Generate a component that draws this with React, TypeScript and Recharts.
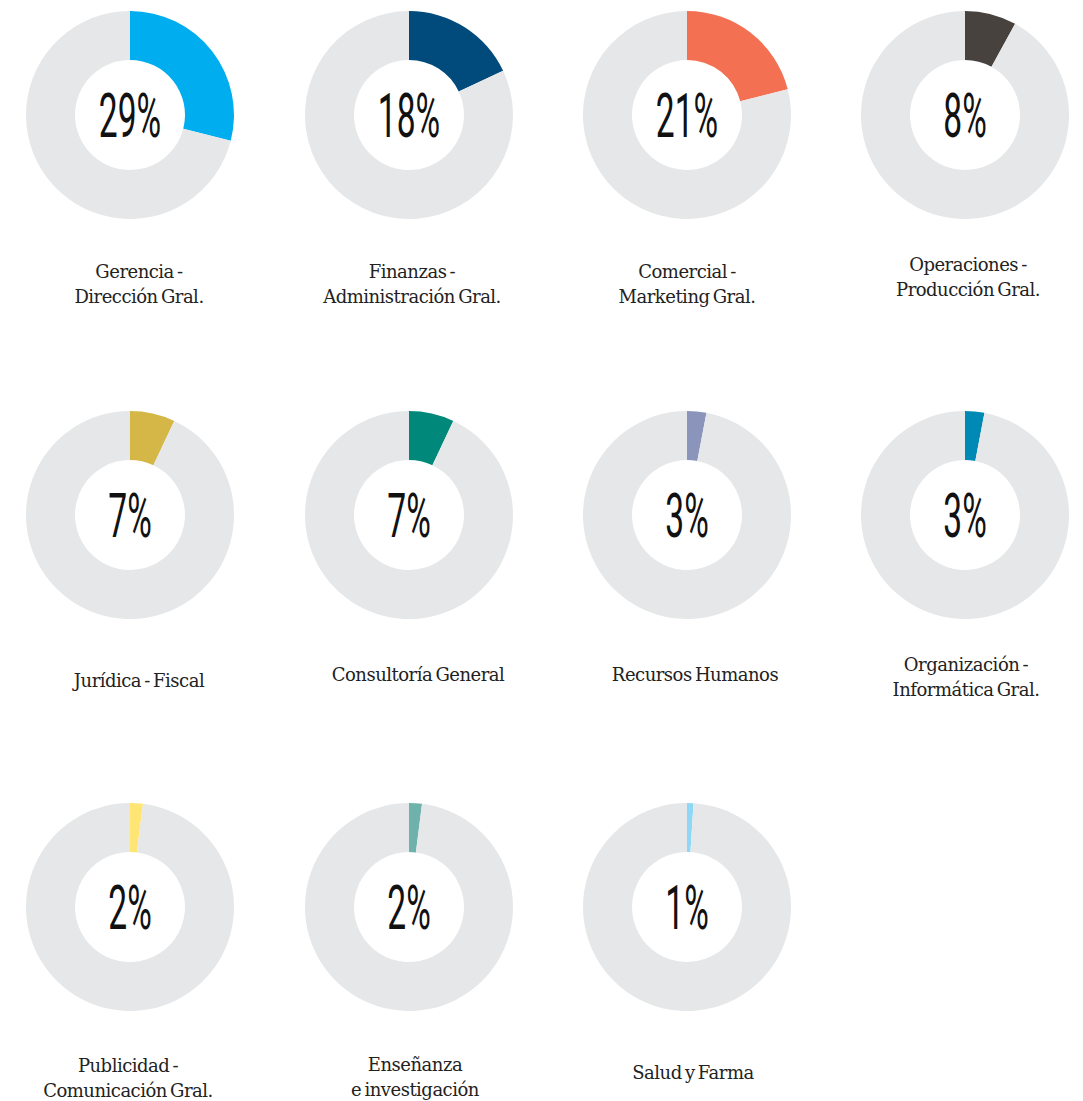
import { PieChart, Pie, Cell } from 'recharts';

// Share of respondents by functional area (%)
const areas = [
    ['Gerencia -', 'Dirección Gral.'],
    ['Finanzas -', 'Administración Gral.'],
    ['Comercial -', 'Marketing Gral.'],
    ['Operaciones -', 'Producción Gral.'],
    ['Jurídica - Fiscal'],
    ['Consultoría General'],
    ['Recursos Humanos'],
    ['Organización -', 'Informática Gral.'],
    ['Publicidad -', 'Comunicación Gral.'],
    ['Enseñanza', 'e investigación'],
    ['Salud y Farma'],
];
const shares = [29, 18, 21, 8, 7, 7, 3, 3, 2, 2, 1];
const colors = [
    '#00aeef', '#004a7c', '#f37052', '#48423f', '#d4b746', '#00897a',
    '#8b95bb', '#0089b5', '#ffe574', '#6fb2ab', '#8fd7f6',
];
const RING = '#e6e7e8';

// grid layout
const colX = [130, 409, 687, 965];
const rowY = [115, 515, 907];
// label box: [center x, top y of first line]
const labelPos = [
    [139, 259], [412, 259], [687, 259], [968, 252],
    [139, 668], [418, 662], [695, 662], [966, 652],
    [128, 1053], [415, 1052], [693, 1060],
];

const W = 1083;
const H = 1101;

function App() {
    return (
        <div style={{ position: 'absolute', left: 0, top: 0, width: W, height: H, background: '#fff' }}>
            <PieChart width={W} height={H} margin={{ top: 0, right: 0, bottom: 0, left: 0 }}>
                {shares.map((share, i) => {
                    const data = [
                        { name: 'share', value: share },
                        { name: 'rest', value: 100 - share },
                    ];
                    return (
                        <Pie
                            key={i}
                            data={data}
                            dataKey="value"
                            cx={colX[i % 4]}
                            cy={rowY[Math.floor(i / 4)]}
                            innerRadius={55}
                            outerRadius={104}
                            startAngle={90}
                            endAngle={-270}
                            stroke="none"
                            isAnimationActive={false}
                            labelLine={false}
                            label={(p: any) =>
                                p.index === 0 ? (
                                    <text
                                        transform={`translate(${p.cx},${p.cy + 22}) scale(0.55,1)`}
                                        textAnchor="middle"
                                        fontFamily="Roboto, sans-serif"
                                        fontWeight={400}
                                        fontSize={61}
                                        fill="#111"
                                    >
                                        {share}%
                                    </text>
                                ) : null
                            }
                        >
                            <Cell fill={colors[i]} />
                            <Cell fill={RING} />
                        </Pie>
                    );
                })}
            </PieChart>
            {areas.map((lines, i) => (
                <div
                    key={i}
                    style={{
                        position: 'absolute',
                        left: labelPos[i][0] - 130,
                        top: labelPos[i][1],
                        width: 260,
                        textAlign: 'center',
                        fontFamily: "'DejaVu Serif', serif",
                        fontSize: 18,
                        letterSpacing: -0.5,
                        wordSpacing: -2,
                        lineHeight: '25px',
                        color: '#222',
                    }}
                >
                    {lines.map((l, j) => (
                        <div key={j}>{l}</div>
                    ))}
                </div>
            ))}
        </div>
    );
}

export default App;
